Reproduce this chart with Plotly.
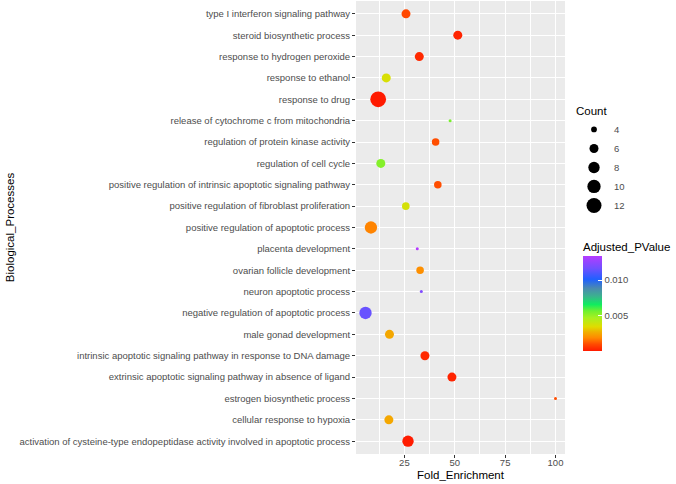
import plotly.graph_objects as go
import numpy as np

# Data (top-to-bottom as shown in the chart)
processes = [
    "type I interferon signaling pathway",
    "steroid biosynthetic process",
    "response to hydrogen peroxide",
    "response to ethanol",
    "response to drug",
    "release of cytochrome c from mitochondria",
    "regulation of protein kinase activity",
    "regulation of cell cycle",
    "positive regulation of intrinsic apoptotic signaling pathway",
    "positive regulation of fibroblast proliferation",
    "positive regulation of apoptotic process",
    "placenta development",
    "ovarian follicle development",
    "neuron apoptotic process",
    "negative regulation of apoptotic process",
    "male gonad development",
    "intrinsic apoptotic signaling pathway in response to DNA damage",
    "extrinsic apoptotic signaling pathway in absence of ligand",
    "estrogen biosynthetic process",
    "cellular response to hypoxia",
    "activation of cysteine-type endopeptidase activity involved in apoptotic process",
]
fold_enrichment = [25.8, 51.5, 32.4, 16.0, 12.0, 47.7, 40.5, 13.3, 41.6, 25.7, 8.4,
                   31.4, 32.8, 33.4, 5.7, 17.6, 35.2, 48.6, 100.0, 17.3, 26.8]
counts = [6, 6, 6, 6, 13, 3, 5, 6, 5, 5, 9,
          3, 5, 3, 9, 6, 6, 6, 3, 6, 8]
adj_pvalue = [0.0009, 0.0002, 0.0003, 0.0036, 0.00001, 0.0055, 0.0010, 0.0053, 0.0010, 0.0037, 0.0018,
              0.0134, 0.0020, 0.0121, 0.0115, 0.0025, 0.0003, 0.0002, 0.0010, 0.0025, 0.00005]

size_breaks = [4, 6, 8, 10, 12]
color_ticks = [0.005, 0.010]
color_ticktext = ["0.005", "0.010"]
x_ticks = [25, 50, 75, 100]

FONT = "Liberation Sans, Arial, Helvetica, sans-serif"

def size_scale(c):
    # area-style size scale (diameter in px)
    return float(np.sqrt(max(24.0 * c - 63.0, 4.0)))

colorscale = [
    [0.00, "#FF1A00"],
    [0.07, "#FF4A00"],
    [0.14, "#FF8A00"],
    [0.20, "#F0B000"],
    [0.255, "#E0DC00"],
    [0.35, "#A8F020"],
    [0.42, "#70F030"],
    [0.49, "#10EC60"],
    [0.58, "#3CB090"],
    [0.66, "#4A8AB0"],
    [0.755, "#2060FF"],
    [0.87, "#7050FF"],
    [1.00, "#B43CFF"],
]

xmin, xmax = min(fold_enrichment), max(fold_enrichment)
pad = 0.05 * (xmax - xmin)

fig = go.Figure()
fig.add_trace(go.Scatter(
    x=fold_enrichment, y=processes, mode="markers", showlegend=False,
    marker=dict(
        size=[size_scale(c) for c in counts],
        color=adj_pvalue, colorscale=colorscale,
        line=dict(width=0),
        opacity=1,
        colorbar=dict(
            title=dict(text="Adjusted_PValue", side="top",
                       font=dict(size=11.5, color="#000000", family=FONT)),
            x=(583 - 356) / 209, xanchor="left", xpad=0,
            y=(454 - 351) / 453, yanchor="bottom", ypad=0,
            lenmode="pixels", len=112, thickness=19, thicknessmode="pixels",
            outlinewidth=0,
            tickvals=color_ticks, ticktext=color_ticktext,
            ticks="inside", ticklen=4, tickcolor="white",
            tickfont=dict(size=9.5, color="#4D4D4D", family=FONT),
        ),
    ),
))

for b in size_breaks:
    fig.add_trace(go.Scatter(
        x=[None], y=[None], mode="markers", name=str(b), showlegend=True,
        marker=dict(size=size_scale(b), color="black"),
    ))

fig.update_layout(
    width=676, height=484,
    margin=dict(l=356, r=111, t=1, b=30, autoexpand=False),
    paper_bgcolor="white", plot_bgcolor="#EBEBEB",
    font=dict(family=FONT, color="#4D4D4D"),
    legend=dict(
        title=dict(text="Count", font=dict(size=11.5, color="#000000")),
        x=(574 - 356) / 209, xanchor="left", y=(454 - 100) / 453, yanchor="top",
        itemsizing="trace", font=dict(size=9.5, color="#4D4D4D"),
        bgcolor="rgba(0,0,0,0)", tracegroupgap=0,
    ),
    xaxis=dict(
        range=[xmin - pad, xmax + pad],
        tickvals=x_ticks, ticks="outside", ticklen=3, tickcolor="#333333",
        tickfont=dict(size=9.5, color="#4D4D4D"),
        ticklabelstandoff=-3,
        showgrid=True, gridcolor="white", gridwidth=1,
        minor=dict(dtick=12.5, tick0=0, showgrid=True, gridcolor="white", gridwidth=0.5),
        zeroline=False, showline=False,
        title=dict(text="Fold_Enrichment", font=dict(size=11.5, color="#000000"), standoff=3),
    ),
    yaxis=dict(
        categoryorder="array", categoryarray=processes[::-1],
        range=[-0.6, len(processes) - 0.4],
        ticks="outside", ticklen=3, tickcolor="#333333",
        tickfont=dict(size=9.5, color="#4D4D4D"),
        showgrid=True, gridcolor="white", gridwidth=1,
        zeroline=False, showline=False,
        title=dict(text="Biological_Processes", font=dict(size=11.5, color="#000000"), standoff=2),
    ),
)

fig.write_html("out.html", config={"displayModeBar": False},
               post_script="document.body.style.margin='0px';")
